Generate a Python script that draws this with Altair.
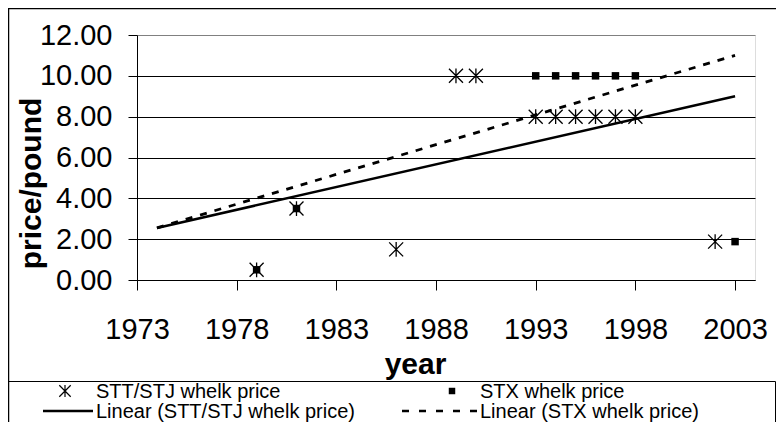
import altair as alt
import pandas as pd

# ---- data ----
years_stt = [1979, 1981, 1986, 1989, 1990, 1993, 1994, 1995, 1996, 1997, 1998, 2002]
price_stt = [0.5, 3.5, 1.5, 10, 10, 8, 8, 8, 8, 8, 8, 1.88]
years_stx = [1979, 1981, 1993, 1994, 1995, 1996, 1997, 1998, 2003]
price_stx = [0.5, 3.5, 10, 10, 10, 10, 10, 10, 1.88]
trend_years = [1974, 2003]
trend_stt = [2.55, 9.0]
trend_stx = [2.55, 11.0]
x_ticks = [1973, 1978, 1983, 1988, 1993, 1998, 2003]
y_ticks = [0, 2, 4, 6, 8, 10, 12]
legend_labels = ["STT/STJ whelk price", "STX whelk price",
                 "Linear (STT/STJ whelk price)", "Linear (STX whelk price)"]

FONT = "Liberation Sans"
W, H = 618, 245
ASTER = "M-1,-1L1,1M-1,1L1,-1M0,-1.05L0,1.05"

stt = pd.DataFrame({"year": years_stt, "price": price_stt})
stx = pd.DataFrame({"year": years_stx, "price": price_stx})
tr_stt = pd.DataFrame({"year": trend_years, "price": trend_stt})
tr_stx = pd.DataFrame({"year": trend_years, "price": trend_stx})
dummy = pd.DataFrame({"k": [0]})

x_scale = alt.Scale(domain=[1973, 2004], nice=False, zero=False)
y_scale = alt.Scale(domain=[0, 12], nice=False, zero=True)

x_axis = alt.Axis(
    title="year", values=x_ticks, format="d", grid=False,
    domainColor="black", domainWidth=1, tickColor="black", tickSize=10, tickWidth=1,
    labelFont=FONT, labelFontSize=29, labelColor="black", labelPadding=25,
    labelFlush=False, labelOverlap=False,
    titleFont=FONT, titleFontSize=30, titleFontWeight="bold", titleColor="black",
    titleX=278, titleY=93, titleAlign="center", titleBaseline="alphabetic",
)
y_axis = alt.Axis(
    title="price/pound", values=y_ticks, format=".2f",
    grid=True,
    gridColor={"condition": {"test": "datum.value === 12", "value": "#808080"}, "value": "black"},
    gridWidth=1,
    domainColor="black", domainWidth=1, tickColor="black", tickSize=9, tickWidth=1,
    labelFont=FONT, labelFontSize=29, labelColor="black", labelPadding=16,
    labelOverlap=False,
    titleFont=FONT, titleFontSize=30, titleFontWeight="bold", titleColor="black",
    titleAngle=270, titleX=-97, titleY=148, titleAlign="center", titleBaseline="alphabetic",
)

line_stt = alt.Chart(tr_stt).mark_line(color="black", strokeWidth=2.5).encode(
    x=alt.X("year:Q", scale=x_scale, axis=x_axis),
    y=alt.Y("price:Q", scale=y_scale, axis=y_axis),
)
line_stx = alt.Chart(tr_stx).mark_line(color="black", strokeWidth=2.8, strokeDash=[7, 8]).encode(
    x="year:Q", y="price:Q"
)
pts_stx = alt.Chart(stx).mark_point(shape="square", filled=True, color="black", size=56, opacity=1).encode(
    x="year:Q", y="price:Q"
)
pts_stt = alt.Chart(stt).mark_point(shape=ASTER, filled=False, stroke="black", strokeWidth=1.3,
                                    size=196, opacity=1).encode(
    x="year:Q", y="price:Q"
)

# ---- outer border and legend box ----
outer = alt.Chart(dummy).mark_rect(fillOpacity=0, stroke="black", strokeWidth=1.5).encode(
    x=alt.value(-128.5), x2=alt.value(700), y=alt.value(-26.5), y2=alt.value(500)
)
legbox = alt.Chart(dummy).mark_rect(fillOpacity=0, stroke="black", strokeWidth=1).encode(
    x=alt.value(-128.5), x2=alt.value(638.5), y=alt.value(346.5), y2=alt.value(500)
)

def ltext(label, x, y):
    return alt.Chart(dummy).mark_text(
        align="left", baseline="alphabetic", font=FONT, fontSize=20, color="black"
    ).encode(x=alt.value(x), y=alt.value(y), text=alt.value(label))

leg_ast = alt.Chart(dummy).mark_point(shape=ASTER, filled=False, stroke="black", strokeWidth=1.2,
                                      size=130, opacity=1).encode(x=alt.value(-72), y=alt.value(356))
leg_sq = alt.Chart(dummy).mark_point(shape="square", filled=True, color="black", size=42, opacity=1).encode(
    x=alt.value(315), y=alt.value(356))
leg_l1 = alt.Chart(dummy).mark_rule(color="black", strokeWidth=2.5).encode(
    x=alt.value(-94), x2=alt.value(-44), y=alt.value(376))
leg_l2 = alt.Chart(dummy).mark_rule(color="black", strokeWidth=2.5, strokeDash=[7, 10]).encode(
    x=alt.value(265), x2=alt.value(340), y=alt.value(376))

chart = alt.layer(
    line_stt, line_stx, pts_stx, pts_stt,
    outer, legbox, leg_ast, leg_sq, leg_l1, leg_l2,
    ltext(legend_labels[0], -41, 363),
    ltext(legend_labels[1], 343, 363),
    ltext(legend_labels[2], -41, 382.5),
    ltext(legend_labels[3], 343, 382.5),
).properties(
    width=W, height=H,
    autosize=alt.AutoSizeParams(type="none"),
    padding={"left": 129, "top": 27, "right": 21, "bottom": 142},
).configure_view(stroke="#808080", strokeWidth=1).configure(background="white")

chart.save("out.html", embed_options={"renderer": "svg", "actions": False})
